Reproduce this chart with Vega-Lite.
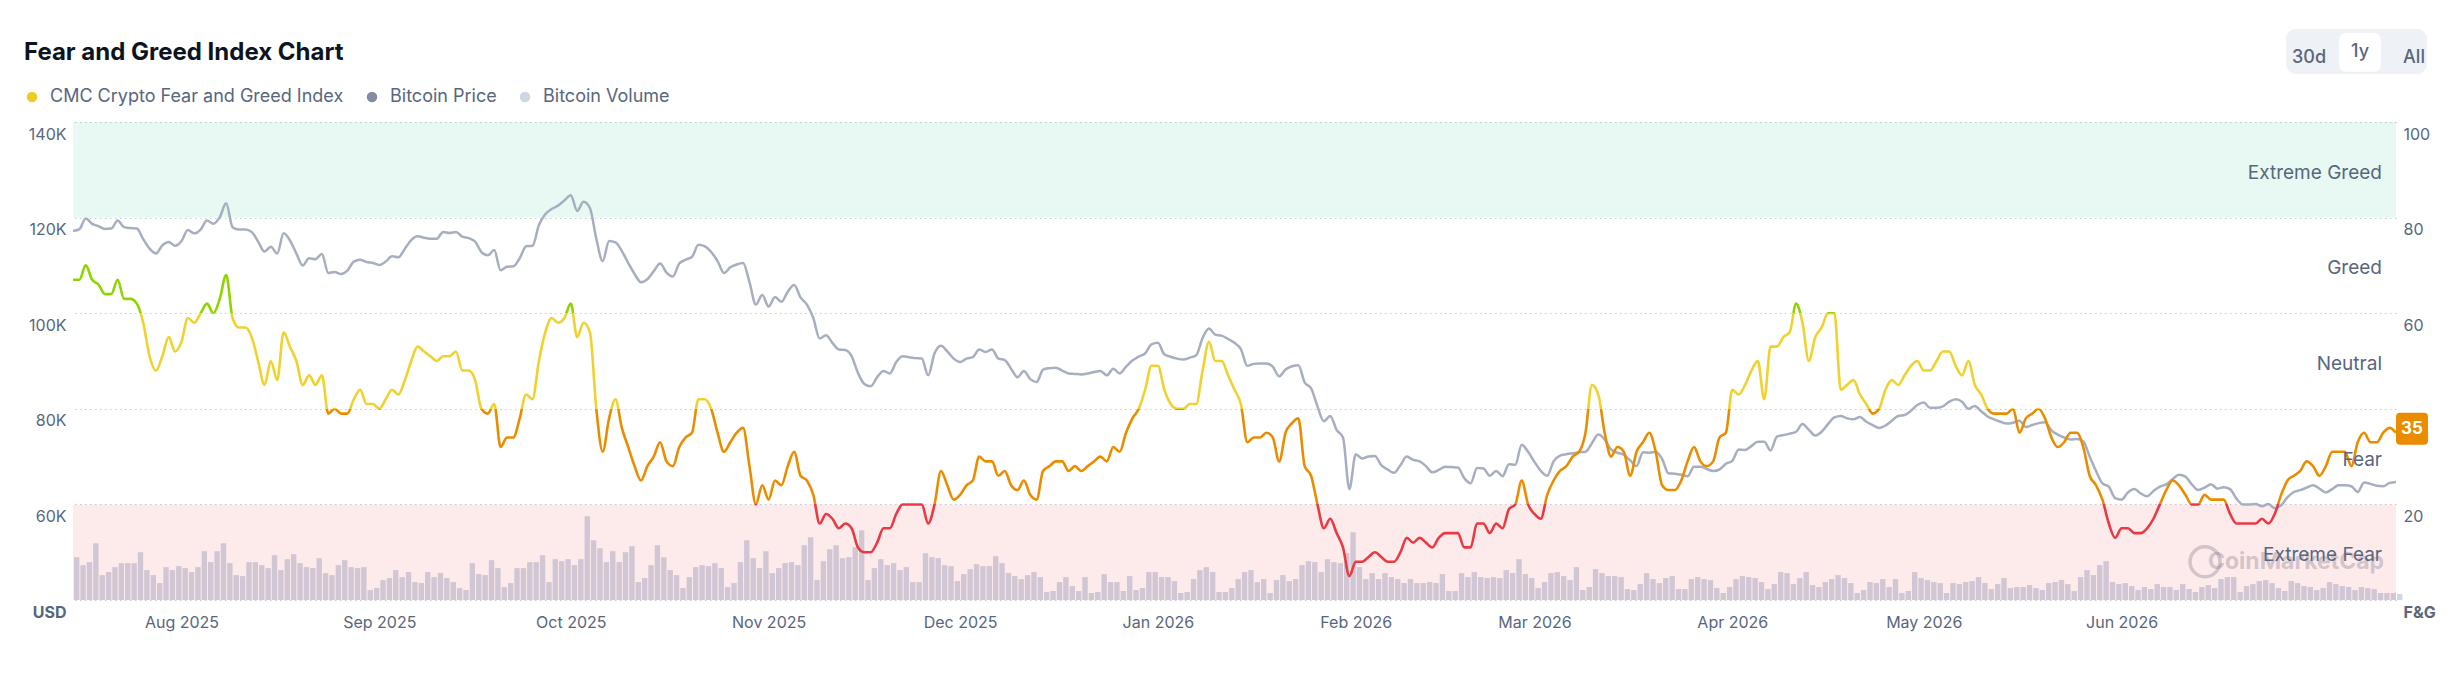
{
"$schema":"https://vega.github.io/schema/vega-lite/v6.json",
"width":2323,"height":478,
"autosize":{"type":"none"},
"padding":{"left":73,"top":122,"right":67,"bottom":74},
"background":"white",
"config":{"view":{"stroke":null},"font":"Inter","axis":{"labelFont":"Inter","labelFontSize":16,"labelColor":"#58667E","ticks":false,"domain":false,"title":null}},
"title":{"text":"Fear and Greed Index Chart","anchor":"start","frame":"group","fontSize":24,"font":"Inter","fontWeight":700,"color":"#0D1421","dx":-49,"offset":20,"dy":56},
"datasets":{
"fng":[
{"d":"2025-07-15","f":67,"p":117.2,"v":43},{"d":"2025-07-16","f":67,"p":117.6,"v":35},{"d":"2025-07-17","f":70,"p":119.8,"v":38},{"d":"2025-07-18","f":67,"p":118.7,"v":57},{"d":"2025-07-19","f":66,"p":118.2,"v":25},{"d":"2025-07-20","f":64,"p":117.6,"v":28},{"d":"2025-07-21","f":64,"p":117.7,"v":33},{"d":"2025-07-22","f":67,"p":119.4,"v":37},{"d":"2025-07-23","f":63,"p":118.0,"v":37},{"d":"2025-07-24","f":63,"p":117.8,"v":37},
{"d":"2025-07-25","f":62,"p":117.7,"v":48},{"d":"2025-07-26","f":58,"p":115.5,"v":30},{"d":"2025-07-27","f":51,"p":113.5,"v":25},{"d":"2025-07-28","f":48,"p":112.5,"v":17},{"d":"2025-07-29","f":51,"p":114.2,"v":33},{"d":"2025-07-30","f":55,"p":114.9,"v":30},{"d":"2025-07-31","f":52,"p":114.1,"v":34},
{"d":"2025-08-01","f":54,"p":115.1,"v":32},{"d":"2025-08-02","f":59,"p":117.4,"v":28},{"d":"2025-08-03","f":58,"p":116.7,"v":33},{"d":"2025-08-04","f":60,"p":117.5,"v":49},{"d":"2025-08-05","f":62,"p":119.4,"v":38},{"d":"2025-08-06","f":60,"p":118.7,"v":49},{"d":"2025-08-07","f":63,"p":120.1,"v":57},{"d":"2025-08-08","f":68,"p":123.0,"v":37},{"d":"2025-08-09","f":59,"p":118.0,"v":25},{"d":"2025-08-10","f":57,"p":117.5,"v":24},
{"d":"2025-08-11","f":57,"p":117.5,"v":38},{"d":"2025-08-12","f":55,"p":117.0,"v":38},{"d":"2025-08-13","f":50,"p":115.0,"v":35},{"d":"2025-08-14","f":45,"p":112.9,"v":32},{"d":"2025-08-15","f":50,"p":113.9,"v":45},{"d":"2025-08-16","f":46,"p":112.5,"v":30},{"d":"2025-08-17","f":56,"p":116.7,"v":41},{"d":"2025-08-18","f":53,"p":115.2,"v":46},{"d":"2025-08-19","f":50,"p":112.5,"v":37},{"d":"2025-08-20","f":45,"p":110.0,"v":33},
{"d":"2025-08-21","f":47,"p":111.5,"v":32},{"d":"2025-08-22","f":45,"p":111.3,"v":42},{"d":"2025-08-23","f":47,"p":112.4,"v":27},{"d":"2025-08-24","f":39,"p":108.4,"v":25},{"d":"2025-08-25","f":40,"p":108.6,"v":35},{"d":"2025-08-26","f":39,"p":108.2,"v":40},{"d":"2025-08-27","f":39,"p":108.9,"v":33},{"d":"2025-08-28","f":42,"p":110.8,"v":32},{"d":"2025-08-29","f":44,"p":111.2,"v":33},{"d":"2025-08-30","f":41,"p":110.7,"v":10},{"d":"2025-08-31","f":41,"p":110.5,"v":12},
{"d":"2025-09-01","f":40,"p":110.1,"v":20},{"d":"2025-09-02","f":42,"p":110.8,"v":22},{"d":"2025-09-03","f":44,"p":111.9,"v":30},{"d":"2025-09-04","f":43,"p":111.7,"v":23},{"d":"2025-09-05","f":46,"p":113.5,"v":28},{"d":"2025-09-06","f":50,"p":115.3,"v":18},{"d":"2025-09-07","f":53,"p":116.1,"v":17},{"d":"2025-09-08","f":52,"p":115.8,"v":28},{"d":"2025-09-09","f":51,"p":115.6,"v":23},{"d":"2025-09-10","f":50,"p":115.6,"v":27},
{"d":"2025-09-11","f":51,"p":117.0,"v":22},{"d":"2025-09-12","f":51,"p":116.8,"v":18},{"d":"2025-09-13","f":52,"p":117.0,"v":12},{"d":"2025-09-14","f":48,"p":116.0,"v":10},{"d":"2025-09-15","f":48,"p":115.7,"v":37},{"d":"2025-09-16","f":46,"p":115.0,"v":26},{"d":"2025-09-17","f":40,"p":112.8,"v":25},{"d":"2025-09-18","f":39,"p":112.1,"v":40},{"d":"2025-09-19","f":41,"p":113.2,"v":32},{"d":"2025-09-20","f":32,"p":109.0,"v":13},
{"d":"2025-09-21","f":34,"p":109.7,"v":17},{"d":"2025-09-22","f":34,"p":109.8,"v":32},{"d":"2025-09-23","f":38,"p":111.5,"v":32},{"d":"2025-09-24","f":43,"p":114.0,"v":38},{"d":"2025-09-25","f":42,"p":114.1,"v":38},{"d":"2025-09-26","f":50,"p":118.4,"v":45},{"d":"2025-09-27","f":56,"p":120.7,"v":18},{"d":"2025-09-28","f":59,"p":121.8,"v":41},{"d":"2025-09-29","f":58,"p":122.5,"v":39},{"d":"2025-09-30","f":59,"p":123.6,"v":41},
{"d":"2025-10-01","f":62,"p":124.7,"v":35},{"d":"2025-10-02","f":55,"p":121.4,"v":41},{"d":"2025-10-03","f":58,"p":123.3,"v":84},{"d":"2025-10-04","f":56,"p":122.0,"v":60},{"d":"2025-10-05","f":40,"p":115.6,"v":52},{"d":"2025-10-06","f":31,"p":110.9,"v":38},{"d":"2025-10-07","f":38,"p":115.1,"v":49},{"d":"2025-10-08","f":42,"p":114.8,"v":38},{"d":"2025-10-09","f":36,"p":113.0,"v":48},{"d":"2025-10-10","f":32,"p":110.5,"v":54},
{"d":"2025-10-11","f":28,"p":108.2,"v":18},{"d":"2025-10-12","f":25,"p":106.5,"v":22},{"d":"2025-10-13","f":28,"p":107.1,"v":35},{"d":"2025-10-14","f":30,"p":108.8,"v":55},{"d":"2025-10-15","f":33,"p":110.4,"v":43},{"d":"2025-10-16","f":29,"p":108.5,"v":30},{"d":"2025-10-17","f":28,"p":107.7,"v":25},{"d":"2025-10-18","f":32,"p":110.4,"v":12},{"d":"2025-10-19","f":34,"p":111.2,"v":23},{"d":"2025-10-20","f":35,"p":111.8,"v":33},
{"d":"2025-10-21","f":42,"p":114.3,"v":35},{"d":"2025-10-22","f":42,"p":114.0,"v":34},{"d":"2025-10-23","f":40,"p":112.8,"v":37},{"d":"2025-10-24","f":35,"p":110.9,"v":32},{"d":"2025-10-25","f":31,"p":108.4,"v":13},{"d":"2025-10-26","f":33,"p":109.6,"v":17},{"d":"2025-10-27","f":35,"p":110.2,"v":38},{"d":"2025-10-28","f":36,"p":110.5,"v":60},{"d":"2025-10-29","f":28,"p":106.5,"v":42},{"d":"2025-10-30","f":20,"p":101.8,"v":32},{"d":"2025-10-31","f":24,"p":103.8,"v":49},
{"d":"2025-11-01","f":21,"p":101.4,"v":27},{"d":"2025-11-02","f":25,"p":103.4,"v":32},{"d":"2025-11-03","f":24,"p":102.4,"v":37},{"d":"2025-11-04","f":28,"p":104.5,"v":38},{"d":"2025-11-05","f":31,"p":105.9,"v":35},{"d":"2025-11-06","f":26,"p":103.3,"v":55},{"d":"2025-11-07","f":25,"p":101.8,"v":63},{"d":"2025-11-08","f":22,"p":99.0,"v":20},{"d":"2025-11-09","f":16,"p":94.7,"v":39},{"d":"2025-11-10","f":18,"p":95.4,"v":51},
{"d":"2025-11-11","f":17,"p":93.8,"v":55},{"d":"2025-11-12","f":15,"p":92.4,"v":42},{"d":"2025-11-13","f":16,"p":92.3,"v":43},{"d":"2025-11-14","f":15,"p":91.0,"v":53},{"d":"2025-11-15","f":11,"p":87.5,"v":70},{"d":"2025-11-16","f":10,"p":85.2,"v":20},{"d":"2025-11-17","f":10,"p":84.7,"v":32},{"d":"2025-11-18","f":12,"p":86.6,"v":41},{"d":"2025-11-19","f":15,"p":87.9,"v":35},{"d":"2025-11-20","f":15,"p":87.4,"v":37},
{"d":"2025-11-21","f":18,"p":89.8,"v":30},{"d":"2025-11-22","f":20,"p":91.0,"v":33},{"d":"2025-11-23","f":20,"p":90.8,"v":18},{"d":"2025-11-24","f":20,"p":90.6,"v":18},{"d":"2025-11-25","f":20,"p":90.5,"v":47},{"d":"2025-11-26","f":16,"p":87.0,"v":43},{"d":"2025-11-27","f":20,"p":91.6,"v":42},{"d":"2025-11-28","f":27,"p":93.2,"v":35},{"d":"2025-11-29","f":24,"p":92.0,"v":34},{"d":"2025-11-30","f":21,"p":90.5,"v":19},
{"d":"2025-12-01","f":22,"p":89.8,"v":26},{"d":"2025-12-02","f":24,"p":90.5,"v":31},{"d":"2025-12-03","f":25,"p":90.8,"v":36},{"d":"2025-12-04","f":30,"p":92.4,"v":34},{"d":"2025-12-05","f":29,"p":91.9,"v":34},{"d":"2025-12-06","f":29,"p":92.4,"v":44},{"d":"2025-12-07","f":26,"p":90.5,"v":37},{"d":"2025-12-08","f":27,"p":90.2,"v":27},{"d":"2025-12-09","f":24,"p":88.4,"v":24},{"d":"2025-12-10","f":23,"p":86.6,"v":21},
{"d":"2025-12-11","f":25,"p":87.9,"v":25},{"d":"2025-12-12","f":22,"p":86.2,"v":28},{"d":"2025-12-13","f":21,"p":85.6,"v":23},{"d":"2025-12-14","f":27,"p":88.2,"v":8},{"d":"2025-12-15","f":28,"p":88.5,"v":9},{"d":"2025-12-16","f":29,"p":88.6,"v":18},{"d":"2025-12-17","f":29,"p":88.0,"v":23},{"d":"2025-12-18","f":27,"p":87.4,"v":14},{"d":"2025-12-19","f":28,"p":87.3,"v":9},{"d":"2025-12-20","f":27,"p":87.2,"v":23},
{"d":"2025-12-21","f":28,"p":87.4,"v":7},{"d":"2025-12-22","f":29,"p":87.7,"v":8},{"d":"2025-12-23","f":30,"p":87.9,"v":26},{"d":"2025-12-24","f":29,"p":87.0,"v":18},{"d":"2025-12-25","f":32,"p":88.4,"v":18},{"d":"2025-12-26","f":31,"p":87.4,"v":9},{"d":"2025-12-27","f":35,"p":88.8,"v":24},{"d":"2025-12-28","f":38,"p":90.1,"v":10},{"d":"2025-12-29","f":40,"p":90.9,"v":12},{"d":"2025-12-30","f":44,"p":91.6,"v":28},{"d":"2025-12-31","f":49,"p":93.5,"v":28},
{"d":"2026-01-01","f":49,"p":93.8,"v":23},{"d":"2026-01-02","f":44,"p":91.4,"v":23},{"d":"2026-01-03","f":41,"p":90.9,"v":19},{"d":"2026-01-04","f":40,"p":90.5,"v":7},{"d":"2026-01-05","f":40,"p":90.3,"v":8},{"d":"2026-01-06","f":41,"p":90.7,"v":21},{"d":"2026-01-07","f":41,"p":91.2,"v":30},{"d":"2026-01-08","f":48,"p":94.8,"v":33},{"d":"2026-01-09","f":54,"p":96.8,"v":28},{"d":"2026-01-10","f":50,"p":95.5,"v":8},
{"d":"2026-01-11","f":50,"p":95.3,"v":8},{"d":"2026-01-12","f":47,"p":94.6,"v":12},{"d":"2026-01-13","f":44,"p":93.8,"v":21},{"d":"2026-01-14","f":41,"p":92.5,"v":28},{"d":"2026-01-15","f":33,"p":89.0,"v":30},{"d":"2026-01-16","f":34,"p":89.4,"v":18},{"d":"2026-01-17","f":34,"p":89.5,"v":21},{"d":"2026-01-18","f":35,"p":89.5,"v":7},{"d":"2026-01-19","f":34,"p":88.8,"v":20},{"d":"2026-01-20","f":29,"p":86.8,"v":25},
{"d":"2026-01-21","f":35,"p":88.2,"v":19},{"d":"2026-01-22","f":37,"p":88.9,"v":21},{"d":"2026-01-23","f":38,"p":89.1,"v":35},{"d":"2026-01-24","f":28,"p":85.5,"v":39},{"d":"2026-01-25","f":26,"p":84.3,"v":38},{"d":"2026-01-26","f":20,"p":80.5,"v":28},{"d":"2026-01-27","f":15,"p":77.4,"v":41},{"d":"2026-01-28","f":17,"p":78.5,"v":38},{"d":"2026-01-29","f":14,"p":75.6,"v":37},{"d":"2026-01-30","f":11,"p":74.0,"v":47},{"d":"2026-01-31","f":5,"p":63.2,"v":68},
{"d":"2026-02-01","f":8,"p":70.5,"v":33},{"d":"2026-02-02","f":8,"p":69.6,"v":21},{"d":"2026-02-03","f":9,"p":70.0,"v":27},{"d":"2026-02-04","f":10,"p":70.1,"v":21},{"d":"2026-02-05","f":9,"p":68.2,"v":27},{"d":"2026-02-06","f":8,"p":67.3,"v":23},{"d":"2026-02-07","f":8,"p":66.6,"v":21},{"d":"2026-02-08","f":10,"p":68.2,"v":17},{"d":"2026-02-09","f":13,"p":70.0,"v":21},{"d":"2026-02-10","f":12,"p":69.3,"v":17},
{"d":"2026-02-11","f":13,"p":69.0,"v":17},{"d":"2026-02-12","f":12,"p":68.0,"v":18},{"d":"2026-02-13","f":11,"p":66.7,"v":17},{"d":"2026-02-14","f":13,"p":67.2,"v":26},{"d":"2026-02-15","f":14,"p":67.9,"v":9},{"d":"2026-02-16","f":14,"p":67.8,"v":9},{"d":"2026-02-17","f":14,"p":67.7,"v":27},{"d":"2026-02-18","f":11,"p":65.5,"v":23},{"d":"2026-02-19","f":11,"p":64.4,"v":28},{"d":"2026-02-20","f":16,"p":67.6,"v":23},
{"d":"2026-02-21","f":16,"p":67.5,"v":22},{"d":"2026-02-22","f":14,"p":66.0,"v":23},{"d":"2026-02-23","f":16,"p":67.0,"v":22},{"d":"2026-02-24","f":15,"p":65.9,"v":30},{"d":"2026-02-25","f":19,"p":68.4,"v":27},{"d":"2026-02-26","f":20,"p":68.3,"v":41},{"d":"2026-02-27","f":25,"p":72.5,"v":26},{"d":"2026-02-28","f":20,"p":71.0,"v":22},
{"d":"2026-03-01","f":18,"p":68.9,"v":12},{"d":"2026-03-02","f":17,"p":67.0,"v":18},{"d":"2026-03-03","f":22,"p":66.0,"v":27},{"d":"2026-03-04","f":25,"p":69.0,"v":28},{"d":"2026-03-05","f":27,"p":70.2,"v":24},{"d":"2026-03-06","f":28,"p":70.5,"v":20},{"d":"2026-03-07","f":30,"p":70.7,"v":33},{"d":"2026-03-08","f":31,"p":70.9,"v":10},{"d":"2026-03-09","f":35,"p":71.0,"v":13},{"d":"2026-03-10","f":45,"p":72.8,"v":31},
{"d":"2026-03-11","f":43,"p":74.6,"v":27},{"d":"2026-03-12","f":35,"p":73.6,"v":24},{"d":"2026-03-13","f":30,"p":71.5,"v":24},{"d":"2026-03-14","f":32,"p":70.8,"v":23},{"d":"2026-03-15","f":31,"p":70.4,"v":11},{"d":"2026-03-16","f":26,"p":69.2,"v":10},{"d":"2026-03-17","f":31,"p":68.0,"v":16},{"d":"2026-03-18","f":33,"p":70.9,"v":27},{"d":"2026-03-19","f":35,"p":70.8,"v":21},{"d":"2026-03-20","f":31,"p":71.0,"v":17},
{"d":"2026-03-21","f":24,"p":69.5,"v":22},{"d":"2026-03-22","f":23,"p":66.5,"v":24},{"d":"2026-03-23","f":23,"p":66.4,"v":11},{"d":"2026-03-24","f":25,"p":66.2,"v":11},{"d":"2026-03-25","f":29,"p":65.9,"v":21},{"d":"2026-03-26","f":32,"p":67.9,"v":23},{"d":"2026-03-27","f":29,"p":67.9,"v":21},{"d":"2026-03-28","f":28,"p":67.4,"v":20},{"d":"2026-03-29","f":29,"p":67.0,"v":12},{"d":"2026-03-30","f":34,"p":67.3,"v":7},{"d":"2026-03-31","f":35,"p":68.5,"v":13},
{"d":"2026-04-01","f":44,"p":69.1,"v":21},{"d":"2026-04-02","f":43,"p":71.5,"v":24},{"d":"2026-04-03","f":45,"p":71.4,"v":23},{"d":"2026-04-04","f":48,"p":72.2,"v":22},{"d":"2026-04-05","f":50,"p":73.1,"v":18},{"d":"2026-04-06","f":42,"p":73.1,"v":11},{"d":"2026-04-07","f":53,"p":71.3,"v":16},{"d":"2026-04-08","f":53,"p":74.2,"v":28},{"d":"2026-04-09","f":55,"p":74.5,"v":27},{"d":"2026-04-10","f":56,"p":74.8,"v":16},
{"d":"2026-04-11","f":62,"p":75.2,"v":22},{"d":"2026-04-12","f":58,"p":76.8,"v":28},{"d":"2026-04-13","f":50,"p":75.6,"v":15},{"d":"2026-04-14","f":55,"p":74.4,"v":13},{"d":"2026-04-15","f":57,"p":75.2,"v":18},{"d":"2026-04-16","f":60,"p":76.8,"v":21},{"d":"2026-04-17","f":60,"p":78.2,"v":25},{"d":"2026-04-18","f":44,"p":78.5,"v":22},{"d":"2026-04-19","f":45,"p":78.0,"v":17},{"d":"2026-04-20","f":46,"p":77.8,"v":7},
{"d":"2026-04-21","f":43,"p":78.3,"v":10},{"d":"2026-04-22","f":41,"p":77.3,"v":18},{"d":"2026-04-23","f":39,"p":76.6,"v":17},{"d":"2026-04-24","f":40,"p":76.0,"v":21},{"d":"2026-04-25","f":44,"p":76.5,"v":13},{"d":"2026-04-26","f":46,"p":77.5,"v":21},{"d":"2026-04-27","f":45,"p":78.5,"v":7},{"d":"2026-04-28","f":47,"p":78.7,"v":9},{"d":"2026-04-29","f":49,"p":79.6,"v":28},{"d":"2026-04-30","f":50,"p":80.8,"v":22},
{"d":"2026-05-01","f":48,"p":81.3,"v":20},{"d":"2026-05-02","f":48,"p":80.2,"v":18},{"d":"2026-05-03","f":50,"p":80.2,"v":17},{"d":"2026-05-04","f":52,"p":80.5,"v":7},{"d":"2026-05-05","f":52,"p":81.5,"v":17},{"d":"2026-05-06","f":49,"p":82.0,"v":16},{"d":"2026-05-07","f":47,"p":81.5,"v":18},{"d":"2026-05-08","f":50,"p":80.0,"v":19},{"d":"2026-05-09","f":45,"p":80.6,"v":23},{"d":"2026-05-10","f":43,"p":79.5,"v":17},
{"d":"2026-05-11","f":40,"p":78.4,"v":11},{"d":"2026-05-12","f":39,"p":77.8,"v":16},{"d":"2026-05-13","f":39,"p":77.3,"v":22},{"d":"2026-05-14","f":39,"p":76.9,"v":12},{"d":"2026-05-15","f":40,"p":77.1,"v":13},{"d":"2026-05-16","f":35,"p":77.5,"v":13},{"d":"2026-05-17","f":38,"p":76.2,"v":15},{"d":"2026-05-18","f":39,"p":76.6,"v":12},{"d":"2026-05-19","f":40,"p":77.0,"v":10},{"d":"2026-05-20","f":38,"p":77.2,"v":17},
{"d":"2026-05-21","f":34,"p":75.5,"v":18},{"d":"2026-05-22","f":32,"p":74.6,"v":20},{"d":"2026-05-23","f":33,"p":74.0,"v":16},{"d":"2026-05-24","f":35,"p":73.6,"v":9},{"d":"2026-05-25","f":35,"p":73.7,"v":23},{"d":"2026-05-26","f":32,"p":73.2,"v":30},{"d":"2026-05-27","f":26,"p":70.0,"v":25},{"d":"2026-05-28","f":24,"p":67.0,"v":35},{"d":"2026-05-29","f":21,"p":64.4,"v":39},{"d":"2026-05-30","f":16,"p":63.7,"v":18},{"d":"2026-05-31","f":13,"p":61.3,"v":16},
{"d":"2026-06-01","f":15,"p":61.0,"v":17},{"d":"2026-06-02","f":15,"p":62.5,"v":14},{"d":"2026-06-03","f":14,"p":63.2,"v":10},{"d":"2026-06-04","f":14,"p":62.3,"v":13},{"d":"2026-06-05","f":15,"p":61.7,"v":11},{"d":"2026-06-06","f":17,"p":62.8,"v":16},{"d":"2026-06-07","f":20,"p":63.7,"v":13},{"d":"2026-06-08","f":23,"p":64.2,"v":13},{"d":"2026-06-09","f":25,"p":65.3,"v":10},{"d":"2026-06-10","f":24,"p":66.2,"v":16},
{"d":"2026-06-11","f":22,"p":65.8,"v":11},{"d":"2026-06-12","f":20,"p":64.2,"v":8},{"d":"2026-06-13","f":20,"p":63.0,"v":13},{"d":"2026-06-14","f":22,"p":63.5,"v":15},{"d":"2026-06-15","f":21,"p":64.2,"v":12},{"d":"2026-06-16","f":21,"p":63.3,"v":21},{"d":"2026-06-17","f":21,"p":63.6,"v":23},{"d":"2026-06-18","f":18,"p":63.2,"v":23},{"d":"2026-06-19","f":16,"p":61.2,"v":8},{"d":"2026-06-20","f":16,"p":60.0,"v":14},
{"d":"2026-06-21","f":16,"p":60.0,"v":16},{"d":"2026-06-22","f":16,"p":60.1,"v":19},{"d":"2026-06-23","f":17,"p":59.6,"v":20},{"d":"2026-06-24","f":16,"p":60.1,"v":17},{"d":"2026-06-25","f":18,"p":59.2,"v":12},{"d":"2026-06-26","f":22,"p":59.8,"v":9},{"d":"2026-06-27","f":25,"p":61.5,"v":19},{"d":"2026-06-28","f":26,"p":62.6,"v":17},{"d":"2026-06-29","f":27,"p":63.0,"v":14},{"d":"2026-06-30","f":29,"p":63.5,"v":13},
{"d":"2026-07-01","f":28,"p":64.0,"v":10},{"d":"2026-07-02","f":26,"p":63.3,"v":12},{"d":"2026-07-03","f":28,"p":62.5,"v":18},{"d":"2026-07-04","f":31,"p":63.2,"v":16},{"d":"2026-07-05","f":31,"p":64.0,"v":14},{"d":"2026-07-06","f":31,"p":64.0,"v":13},{"d":"2026-07-07","f":28,"p":63.8,"v":10},{"d":"2026-07-08","f":33,"p":62.6,"v":13},{"d":"2026-07-09","f":35,"p":64.6,"v":12},{"d":"2026-07-10","f":33,"p":64.3,"v":11},
{"d":"2026-07-11","f":33,"p":63.9,"v":7},{"d":"2026-07-12","f":35,"p":63.8,"v":7},{"d":"2026-07-13","f":36,"p":64.5,"v":7},{"d":"2026-07-14","f":35,"p":64.7,"v":6}
],
"bands":[{"zone":"Extreme Greed","lo":80,"hi":100},{"zone":"Extreme Fear","lo":0,"hi":20}],
"zones":[{"zone":"Extreme Greed","mid":90},{"zone":"Greed","mid":70},{"zone":"Neutral","mid":50},{"zone":"Fear","mid":30},{"zone":"Extreme Fear","mid":10}],
"brand":[{"name":"CoinMarketCap","mid":8}]
},
"resolve":{"scale":{"y":"independent"}},
"layer":[
{"data":{"name":"fng"},
 "mark":{"type":"bar","color":"#CFD6E4","timeUnitBandSize":0.85},
 "encoding":{
  "x":{"field":"d","type":"temporal","timeUnit":"utcyearmonthdate","scale":{"type":"utc","domain":["2025-07-15","2026-07-14"]},
       "axis":{"format":"%b %Y","values":[
         {"year":2025,"month":8,"date":1,"utc":true},{"year":2025,"month":9,"date":1,"utc":true},{"year":2025,"month":10,"date":1,"utc":true},{"year":2025,"month":11,"date":1,"utc":true},{"year":2025,"month":12,"date":1,"utc":true},{"year":2026,"month":1,"date":1,"utc":true},{"year":2026,"month":2,"date":1,"utc":true},{"year":2026,"month":3,"date":1,"utc":true},{"year":2026,"month":4,"date":1,"utc":true},{"year":2026,"month":5,"date":1,"utc":true},{"year":2026,"month":6,"date":1,"utc":true}],
         "labelPadding":14,"grid":false,"labelOverlap":false,"labelFlush":false}},
  "y":{"field":"v","type":"quantitative","scale":{"domain":[0,480],"nice":false},"axis":null}}},
{"data":{"name":"brand"},
 "mark":{"type":"text","align":"right","baseline":"middle","dx":-12,"fontSize":23,"fontWeight":700,"font":"Inter","color":"#7D8596","opacity":0.35},
 "encoding":{
  "x":{"value":"width"},
  "y":{"field":"mid","type":"quantitative","scale":{"domain":[0,100],"nice":false},"axis":null},
  "text":{"field":"name"}}},
{"data":{"name":"brand"},
 "mark":{"type":"point","shape":"circle","size":900,"strokeWidth":3.5,"filled":false,"color":"#7D8596","opacity":0.35,"xOffset":-191},
 "encoding":{
  "x":{"value":"width"},
  "y":{"field":"mid","type":"quantitative","scale":{"domain":[0,100],"nice":false},"axis":null}}},
{"data":{"name":"bands"},
 "mark":{"type":"rect","opacity":0.1},
 "encoding":{
  "y":{"field":"lo","type":"quantitative","scale":{"domain":[0,100],"nice":false},
       "axis":{"orient":"right","values":[0,20,40,60,80,100],"labelExpr":"datum.value == 0 ? 'F&G' : datum.label","labelFontWeight":{"condition":{"test":"datum.value == 0","value":700},"value":400},"labelBaseline":"top","labelOffset":4,"labelPadding":7,"labelOverlap":false,"grid":true,"gridColor":"#C5CBD5","gridDash":[1.5,3.5],"gridWidth":1}},
  "y2":{"field":"hi"},
  "fill":{"field":"zone","type":"nominal","scale":{"domain":["Extreme Greed","Extreme Fear"],"range":["#16C784","#EA3943"]},"legend":null}}},
{"data":{"name":"fng"},
 "mark":{"type":"line","interpolate":"monotone","color":"#A6AEBF","strokeWidth":2.5},
 "encoding":{
  "x":{"field":"d","type":"temporal","scale":{"type":"utc","domain":["2025-07-15","2026-07-14"]}},
  "y":{"field":"p","type":"quantitative","scale":{"domain":[40,140],"nice":false},
       "axis":{"orient":"left","values":[40,60,80,100,120,140],"labelExpr":"datum.value == 40 ? 'USD' : datum.value + 'K'","labelFontWeight":{"condition":{"test":"datum.value == 40","value":700},"value":400},"labelBaseline":"top","labelOffset":4,"labelPadding":7,"labelOverlap":false,"grid":false}}}},
{"data":{"name":"fng"},
 "mark":{"type":"line","interpolate":"monotone","strokeWidth":2.6,
   "stroke":{"gradient":"linear","x1":0,"y1":1,"x2":0,"y2":0,"stops":[
     {"offset":0,"color":"#EA3943"},{"offset":0.2308,"color":"#EA3943"},
     {"offset":0.2308,"color":"#EA8C00"},{"offset":0.5385,"color":"#EA8C00"},
     {"offset":0.5385,"color":"#F0D12E"},{"offset":0.8462,"color":"#F0D12E"},
     {"offset":0.8462,"color":"#8DD400"},{"offset":1,"color":"#8DD400"}]}},
 "encoding":{
  "x":{"field":"d","type":"temporal","scale":{"type":"utc","domain":["2025-07-15","2026-07-14"]}},
  "y":{"field":"f","type":"quantitative","scale":{"domain":[0,100],"nice":false},"axis":null}}},
{"data":{"name":"zones"},
 "mark":{"type":"text","align":"right","baseline":"middle","dx":-14,"dy":3,"fontSize":19,"font":"Inter","color":"#58667E"},
 "encoding":{
  "x":{"value":"width"},
  "y":{"field":"mid","type":"quantitative","scale":{"domain":[0,100],"nice":false},"axis":null},
  "text":{"field":"zone"}}},
{"data":{"name":"fng"},
 "transform":[{"filter":{"field":"d","timeUnit":"utcyearmonthdate","equal":{"year":2026,"month":7,"date":14,"utc":true}}}],
 "mark":{"type":"point","filled":true,"opacity":1,"color":"#EA8C00","size":1024,"xOffset":16,"yOffset":-4,
   "shape":"M-0.75,-1H0.75Q1,-1,1,-0.75V0.75Q1,1,0.75,1H-0.75Q-1,1,-1,0.75V-0.75Q-1,-1,-0.75,-1Z"},
 "encoding":{
  "x":{"field":"d","type":"temporal","scale":{"type":"utc","domain":["2025-07-15","2026-07-14"]}},
  "y":{"field":"f","type":"quantitative","scale":{"domain":[0,100],"nice":false},"axis":null}}},
{"data":{"name":"fng"},
 "transform":[{"filter":{"field":"d","timeUnit":"utcyearmonthdate","equal":{"year":2026,"month":7,"date":14,"utc":true}}}],
 "mark":{"type":"text","align":"center","baseline":"middle","dx":16,"dy":-4,"fontSize":17,"fontWeight":700,"font":"Inter","color":"#FFFFFF"},
 "encoding":{
  "x":{"field":"d","type":"temporal","scale":{"type":"utc","domain":["2025-07-15","2026-07-14"]}},
  "y":{"field":"f","type":"quantitative","scale":{"domain":[0,100],"nice":false},"axis":null},
  "text":{"field":"f"}}},
{"data":{"values":[{"s":"CMC Crypto Fear and Greed Index"},{"s":"Bitcoin Price"},{"s":"Bitcoin Volume"}]},
 "mark":{"type":"point","filled":true,"opacity":0},
 "encoding":{
  "color":{"field":"s","type":"nominal","scale":{"domain":["CMC Crypto Fear and Greed Index","Bitcoin Price","Bitcoin Volume"],"range":["#EFCB25","#858CA2","#CFD6E4"]},
   "legend":{"orient":"none","legendX":-50,"legendY":-34,"direction":"horizontal","title":null,"symbolType":"circle","symbolSize":110,"symbolOpacity":1,"symbolStrokeWidth":0,"labelFontSize":18,"labelFont":"Inter","labelColor":"#58667E","labelOffset":9,"labelLimit":0,"columnPadding":19}}}},
{"data":{"values":[{"b":"30d"},{"b":"1y"},{"b":"All"}]},
 "mark":{"type":"point","filled":true,"fill":"#FFFFFF","opacity":0},
 "encoding":{
  "shape":{"field":"b","type":"nominal","scale":{"domain":["30d","1y","All"],"range":[
     "M0,0Z",
     "M-0.62,-0.93H0.62Q1,-0.93,1,-0.55V0.55Q1,0.93,0.62,0.93H-0.62Q-1,0.93,-1,0.55V-0.55Q-1,-0.93,-0.62,-0.93Z",
     "M0,0Z"]},
   "legend":{"orient":"none","legendX":2213,"legendY":-93,"direction":"horizontal","title":null,"symbolSize":1764,"symbolOpacity":1,"symbolStrokeWidth":0,"symbolFillColor":"#FFFFFF","symbolStrokeColor":"#FFFFFF",
     "labelFontSize":18,"labelFont":"Inter","labelFontWeight":500,"labelColor":"#58667E","labelAlign":"center","labelOffset":-21,"columnPadding":12,"padding":2,"fillColor":"#EEF1F5","cornerRadius":10,
     "encode":{"labels":{"fill":{"condition":{"test":"datum.value === '1y'","value":"#0D1421"},"value":"#616E85"},"fontWeight":{"condition":{"test":"datum.value === '1y'","value":600},"value":500}}}}}}}
]
}
